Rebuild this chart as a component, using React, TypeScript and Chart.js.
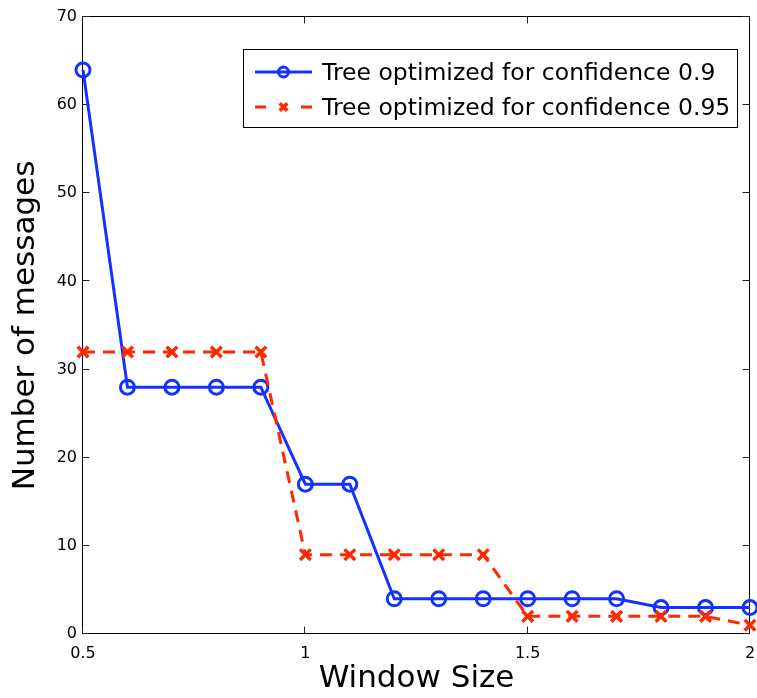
import React, { useEffect, useRef } from "react";
import { Chart, registerables } from "chart.js";

Chart.register(...registerables);

const windowSizes = [0.5, 0.6, 0.7, 0.8, 0.9, 1.0, 1.1, 1.2, 1.3, 1.4, 1.5, 1.6, 1.7, 1.8, 1.9, 2.0];
const conf090 = [64, 28, 28, 28, 28, 17, 17, 4, 4, 4, 4, 4, 4, 3, 3, 3];
const conf095 = [32, 32, 32, 32, 32, 9, 9, 9, 9, 9, 2, 2, 2, 2, 2, 1];
const seriesLabels = ["Tree optimized for confidence 0.9", "Tree optimized for confidence 0.95"];
const xTicks = [0.5, 1, 1.5, 2];
const yTicks = [0, 10, 20, 30, 40, 50, 60, 70];

const FONT = "'DejaVu Sans', sans-serif";
const BLUE = "rgb(20,50,255)";
const RED = "rgb(255,40,0)";

const framePlugin = {
  id: "matlabFrame",
  beforeDatasetsDraw(chart: any) {
    const { ctx, chartArea, scales } = chart;
    const l = Math.round(chartArea.left) - 0.5;
    const r = Math.round(chartArea.right) - 0.5;
    const t = Math.round(chartArea.top) - 0.5;
    const b = Math.round(chartArea.bottom) - 0.5;
    ctx.save();
    ctx.strokeStyle = "#000";
    ctx.lineWidth = 1;
    ctx.strokeRect(l, t, r - l, b - t);
    ctx.strokeStyle = "#222";
    const tl = 7;
    ctx.beginPath();
    for (const v of xTicks) {
      const px = Math.round(scales.x.getPixelForValue(v)) - 0.5;
      ctx.moveTo(px, b);
      ctx.lineTo(px, b - tl);
      ctx.moveTo(px, t);
      ctx.lineTo(px, t + tl);
    }
    for (const v of yTicks) {
      const py = Math.round(scales.y.getPixelForValue(v)) - 0.5;
      ctx.moveTo(l, py);
      ctx.lineTo(l + tl, py);
      ctx.moveTo(r, py);
      ctx.lineTo(r - tl, py);
    }
    ctx.stroke();
    ctx.restore();
  },
  afterDatasetsDraw(chart: any) {
    const { ctx } = chart;
    const bx = 243.5, by = 49.5, bw = 494, bh = 78;
    ctx.save();
    ctx.fillStyle = "#fff";
    ctx.fillRect(bx, by, bw, bh);
    ctx.strokeStyle = "#000";
    ctx.lineWidth = 1;
    ctx.strokeRect(bx, by, bw, bh);
    const rows = [72, 107];
    const mx = 283.5;
    chart.data.datasets.forEach((ds: any, i: number) => {
      const y = rows[i];
      ctx.save();
      ctx.strokeStyle = ds.borderColor;
      ctx.lineWidth = ds.borderWidth;
      ctx.beginPath();
      if (ds.borderDash && ds.borderDash.length) {
        ctx.moveTo(255, y);
        ctx.lineTo(266, y);
        ctx.moveTo(301, y);
        ctx.lineTo(312, y);
      } else {
        ctx.moveTo(255, y);
        ctx.lineTo(312, y);
      }
      ctx.stroke();
      ctx.restore();

      ctx.save();
      ctx.strokeStyle = ds.pointBorderColor;
      ctx.lineWidth = ds.pointBorderWidth;
      ctx.beginPath();
      if (ds.pointStyle === "circle") {
        ctx.arc(mx, y, 5, 0, Math.PI * 2);
      } else {
        const d = 3.8;
        ctx.moveTo(mx - d, y - d);
        ctx.lineTo(mx + d, y + d);
        ctx.moveTo(mx - d, y + d);
        ctx.lineTo(mx + d, y - d);
      }
      ctx.stroke();
      ctx.restore();

      ctx.fillStyle = "#000";
      ctx.font = `23.5px ${FONT}`;
      ctx.textBaseline = "alphabetic";
      ctx.textAlign = "left";
      ctx.fillText(ds.label, 322, y + 8);
    });
    ctx.restore();
  },
};

export default function App() {
  const ref = useRef<HTMLCanvasElement | null>(null);
  useEffect(() => {
    document.body.style.margin = "0";
    if (!ref.current) return;
    const chart = new Chart(ref.current, {
      type: "line",
      data: {
        datasets: [
          {
            label: seriesLabels[0],
            data: windowSizes.map((x, i) => ({ x, y: conf090[i] })),
            borderColor: BLUE,
            borderWidth: 3,
            pointStyle: "circle",
            pointRadius: 7,
            pointBorderWidth: 3,
            pointBorderColor: BLUE,
            pointBackgroundColor: "rgba(0,0,0,0)",
            tension: 0,
            clip: false,
            order: 1,
          } as any,
          {
            label: seriesLabels[1],
            data: windowSizes.map((x, i) => ({ x, y: conf095[i] })),
            borderColor: RED,
            borderWidth: 3,
            borderDash: [12, 8],
            pointStyle: "crossRot",
            pointRadius: 7.5,
            pointBorderWidth: 3.5,
            pointBorderColor: RED,
            pointBackgroundColor: RED,
            tension: 0,
            clip: false,
            order: 0,
          } as any,
        ],
      },
      options: {
        animation: false,
        responsive: false,
        maintainAspectRatio: false,
        devicePixelRatio: 1,
        layout: { autoPadding: false, padding: { top: 17, right: 7, left: 0, bottom: 0 } },
        plugins: { legend: { display: false }, tooltip: { enabled: false } },
        scales: {
          x: {
            type: "linear",
            min: 0.5,
            max: 2,
            border: { display: false },
            grid: { display: false, drawTicks: false },
            ticks: {
              stepSize: 0.5,
              padding: 10,
              color: "#000",
              font: { family: FONT, size: 16 },
              maxRotation: 0,
              callback: (v: any) => String(v),
            },
            title: {
              display: true,
              text: "Window Size",
              color: "#000",
              font: { family: FONT, size: 31, lineHeight: 1 },
              padding: { top: 0, bottom: 4 },
            },
            afterFit: (s: any) => {
              s.height = 64;
              s.paddingLeft = 0;
              s.paddingRight = 0;
            },
          },
          y: {
            type: "linear",
            min: 0,
            max: 70,
            border: { display: false },
            grid: { display: false, drawTicks: false },
            ticks: {
              stepSize: 10,
              padding: 6,
              color: "#000",
              font: { family: FONT, size: 16 },
            },
            title: {
              display: true,
              text: "Number of messages",
              color: "#000",
              font: { family: FONT, size: 31, lineHeight: 1 },
              padding: { top: 10.5, bottom: 0 },
            },
            afterFit: (s: any) => {
              s.width = 83;
              s.paddingTop = 0;
              s.paddingBottom = 0;
            },
          },
        },
      } as any,
      plugins: [framePlugin],
    });
    return () => chart.destroy();
  }, []);
  return (
    <div style={{ position: "absolute", left: 0, top: 0, width: 757, height: 698, background: "#fff" }}>
      <canvas ref={ref} width={757} height={698} style={{ display: "block", width: 757, height: 698 }} />
    </div>
  );
}
